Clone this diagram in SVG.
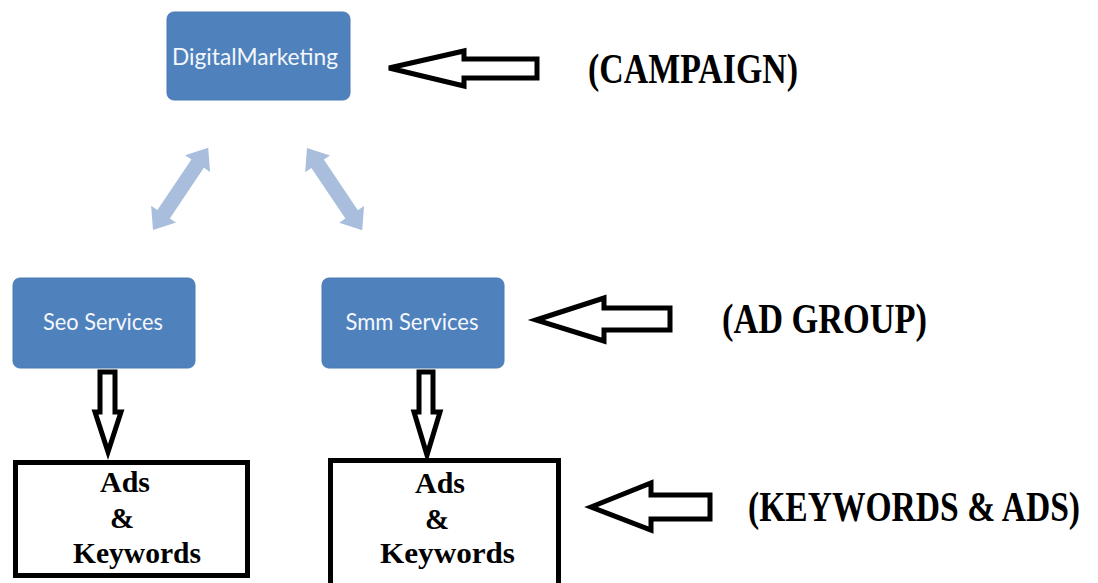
<svg xmlns="http://www.w3.org/2000/svg" width="1098" height="583" viewBox="0 0 1098 583">
<style>
.blue{fill:#4F81BD;stroke:#4A7BB5;stroke-width:1}
.btxt{font-family:Lato,"Open Sans",sans-serif;font-size:24px;fill:#F4F7FB;text-anchor:middle}
.oarrow{fill:#fff;stroke:#000;stroke-width:5;stroke-linejoin:miter}
.dbl{fill:#A9BEDC}
.box{fill:#fff;stroke:#000;stroke-width:5}
.lbl{font-family:"Liberation Serif","Times New Roman",serif;font-weight:bold;font-size:43px;fill:#000}
.kt{font-family:"Liberation Serif","Times New Roman",serif;font-weight:bold;font-size:29px;fill:#000}
</style>
<rect width="1098" height="583" fill="#fff"/>
<g id="connectors">
<polygon class="dbl" transform="translate(153,230) rotate(-56.1)" points="0,0 19,-15 19,-7.5 80,-7.5 80,-15 99,0 80,15 80,7.5 19,7.5 19,15"/>
<polygon class="dbl" transform="translate(307,148) rotate(56.1)" points="0,0 19,-15 19,-7.5 80,-7.5 80,-15 99,0 80,15 80,7.5 19,7.5 19,15"/>
<polygon class="oarrow" points="100,372 115,372 115,412 121,412 108,452 95,412 100,412"/>
<polygon class="oarrow" points="419,372 433,372 433,412 440,412 427,455 414,412 419,412"/>
<polygon class="oarrow" points="389,68 464,51 464,59 537,59 537,78 464,78 464,86"/>
<polygon class="oarrow" points="536,320 604,298 604,308 670,308 670,330 604,330 604,341"/>
<polygon class="oarrow" points="591,507 651,483 651,495 710,495 710,519 651,519 651,530"/>
</g>
<g id="digital-marketing">
<rect class="blue" x="167" y="12" width="183" height="88" rx="7"/>
<text class="btxt" x="255" y="65" textLength="166" lengthAdjust="spacingAndGlyphs">DigitalMarketing</text>
</g>
<g id="seo-services">
<rect class="blue" x="13" y="278" width="182" height="90" rx="7"/>
<text class="btxt" x="103" y="330" textLength="120" lengthAdjust="spacingAndGlyphs">Seo Services</text>
</g>
<g id="smm-services">
<rect class="blue" x="322" y="278" width="182" height="90" rx="7"/>
<text class="btxt" x="412" y="330" textLength="133" lengthAdjust="spacingAndGlyphs">Smm Services</text>
</g>
<g id="ads-keywords-1">
<rect class="box" x="15.5" y="462.5" width="232" height="113"/>
<text class="kt" x="100" y="492" textLength="50" lengthAdjust="spacingAndGlyphs">Ads</text>
<text class="kt" x="110" y="528">&amp;</text>
<text class="kt" x="73" y="563" textLength="128" lengthAdjust="spacingAndGlyphs">Keywords</text>
</g>
<g id="ads-keywords-2">
<rect class="box" x="330.5" y="460.5" width="228" height="130"/>
<text class="kt" x="415" y="493" textLength="50" lengthAdjust="spacingAndGlyphs">Ads</text>
<text class="kt" x="425" y="529">&amp;</text>
<text class="kt" x="380" y="563" textLength="135" lengthAdjust="spacingAndGlyphs">Keywords</text>
</g>
<g id="labels">
<text class="lbl" x="588" y="83" textLength="210" lengthAdjust="spacingAndGlyphs">(CAMPAIGN)</text>
<text class="lbl" x="722" y="333" textLength="205" lengthAdjust="spacingAndGlyphs">(AD GROUP)</text>
<text class="lbl" transform="translate(748,521) scale(0.781,1)" x="0" y="0">(KEYWORDS &amp; ADS)</text>
</g>
</svg>
